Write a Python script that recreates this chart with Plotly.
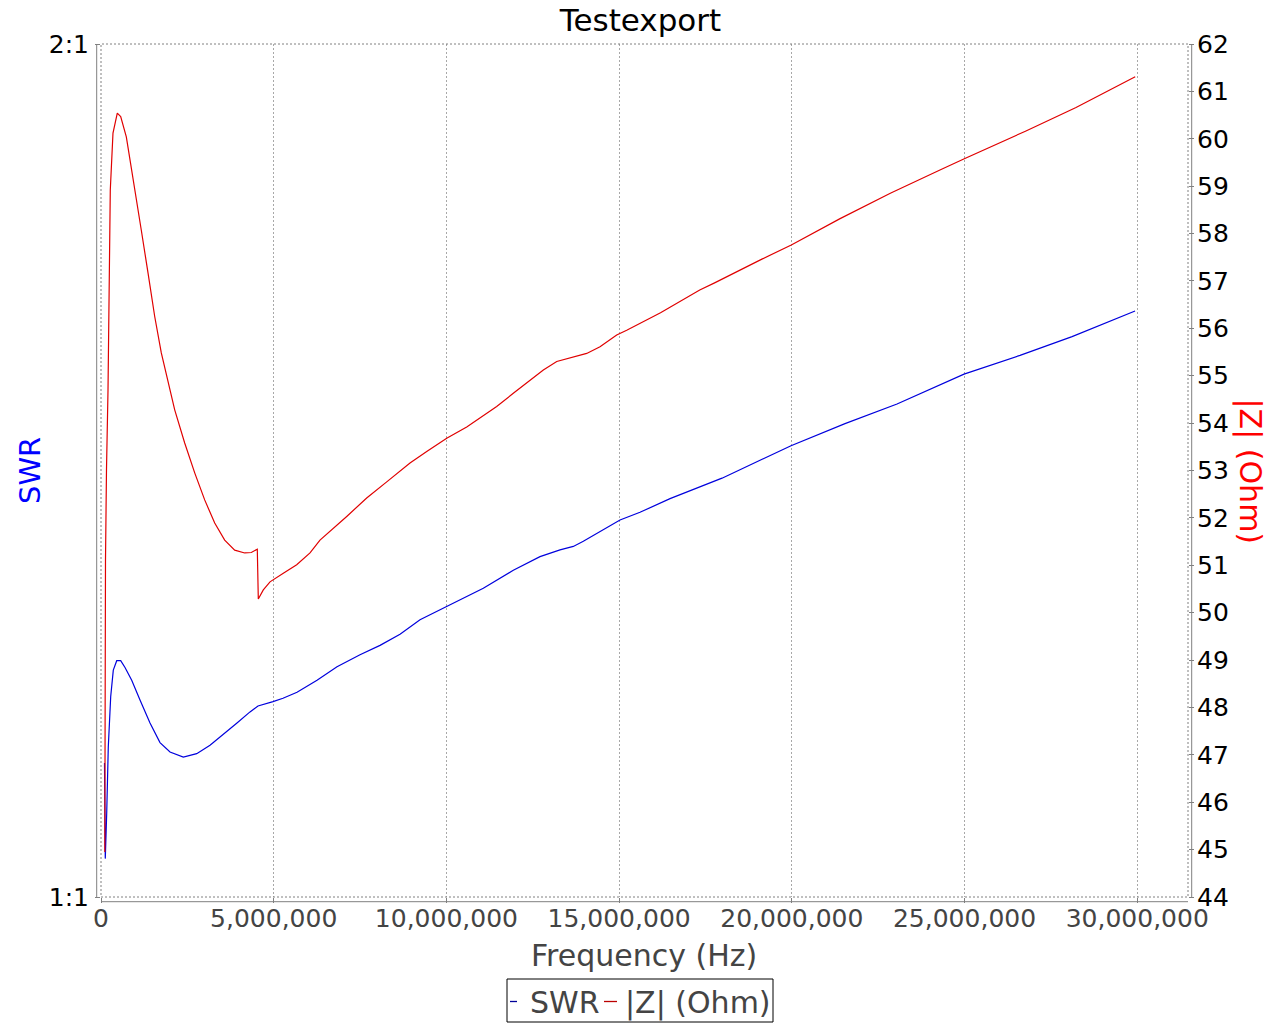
import plotly.graph_objects as go

# ---- data ----
freq_swr_mhz = [0.101, 0.124, 0.165, 0.211, 0.281, 0.356, 0.455, 0.570, 0.695, 0.889,
                1.129, 1.419, 1.708, 1.998, 2.383, 2.771, 3.156, 3.532, 3.937, 4.314,
                4.545, 4.980, 5.269, 5.675, 6.254, 6.833, 7.499, 8.078, 8.657, 9.236,
                10.009, 11.068, 11.937, 12.710, 13.289, 13.674, 13.964, 14.447, 15.026,
                15.605, 16.474, 17.979, 19.977, 21.540, 23.046, 24.986, 25.930, 26.607,
                28.113, 29.937]
swr = [1.157, 1.045, 1.098, 1.176, 1.235, 1.266, 1.277, 1.277, 1.269, 1.254,
       1.231, 1.204, 1.181, 1.170, 1.164, 1.168, 1.178, 1.190, 1.204, 1.217,
       1.224, 1.229, 1.233, 1.240, 1.254, 1.270, 1.284, 1.295, 1.308, 1.325,
       1.341, 1.362, 1.383, 1.399, 1.407, 1.411, 1.417, 1.428, 1.442,
       1.451, 1.467, 1.491, 1.529, 1.555, 1.578, 1.613, 1.626, 1.635,
       1.657, 1.687]

freq_z_mhz = [0.110, 0.130, 0.159, 0.203, 0.269, 0.347, 0.472, 0.570, 0.733, 0.877,
              1.022, 1.167, 1.361, 1.555, 1.746, 1.940, 2.134, 2.423, 2.713, 3.002,
              3.292, 3.581, 3.871, 4.160, 4.351, 4.525, 4.554, 4.699, 4.893, 5.278,
              5.666, 6.051, 6.340, 7.114, 7.692, 8.272, 8.946, 9.430, 10.009, 10.588,
              11.456, 11.937, 12.420, 12.806, 13.194, 13.674, 14.062, 14.447, 14.930,
              15.220, 16.199, 17.334, 17.765, 19.134, 19.985, 21.384, 22.852, 24.320,
              24.994, 26.763, 28.228, 29.942]
z_ohm = [44.95, 51.11, 53.01, 54.70, 58.92, 60.12, 60.54, 60.47, 60.04, 59.41,
         58.71, 58.07, 57.17, 56.25, 55.48, 54.85, 54.28, 53.58, 52.95, 52.38,
         51.89, 51.53, 51.32, 51.26, 51.27, 51.34, 50.29, 50.48, 50.65, 50.83,
         51.01, 51.26, 51.53, 52.03, 52.42, 52.76, 53.16, 53.40, 53.68, 53.92,
         54.35, 54.63, 54.91, 55.12, 55.30, 55.40, 55.47, 55.61, 55.86,
         55.96, 56.33, 56.81, 56.96, 57.46, 57.76, 58.31, 58.85, 59.35,
         59.58, 60.16, 60.66, 61.31]

series_names = ["SWR", "|Z| (Ohm)"]
swr_tickvals = [1, 2]
swr_ticktext = ["1:1", "2:1"]
x_tickvals = [0, 5e6, 10e6, 15e6, 20e6, 25e6, 30e6]

BLUE = "#0000dd"
RED = "#e00000"
FONT = "DejaVu Sans"

# the page places the figure 8 px in from the top-left corner
OFF = 8
L, R, T, B = 101 - OFF, 92, 44 - OFF, 127
PW, PH = 1087, 853
W, H = L + PW + R, T + PH + B


def px(xpix):
    # xpix given in screen pixels of the 1280x1024 window
    return (xpix - OFF - L) / PW


def py(ypix):
    return (T + PH - (ypix - OFF)) / PH


fig = go.Figure()
fig.add_trace(go.Scatter(x=[f * 1e6 for f in freq_swr_mhz], y=swr, mode="lines",
                         name=series_names[0], line=dict(color=BLUE, width=1.2),
                         yaxis="y", showlegend=False))
fig.add_trace(go.Scatter(x=[f * 1e6 for f in freq_z_mhz], y=z_ohm, mode="lines",
                         name=series_names[1], line=dict(color=RED, width=1.2),
                         yaxis="y2", showlegend=False))

tickfont = dict(family=FONT, size=25, color="black")
fig.update_layout(
    width=W, height=H,
    margin=dict(l=L, r=R, t=T, b=B, autoexpand=False),
    paper_bgcolor="white", plot_bgcolor="white",
    title=dict(text="Testexport", x=(640.5 - OFF) / W, xref="container", xanchor="center",
               y=1 - (20 - OFF) / H, yref="container", yanchor="middle",
               font=dict(family=FONT, size=31, color="black")),
    xaxis=dict(range=[0, 31.47e6], tickvals=x_tickvals, tickformat=",d",
               showgrid=True, gridcolor="#a8a8a8", griddash="2px,2px", gridwidth=1,
               zeroline=False, showline=False, ticks="outside", ticklen=5,
               tickcolor="#808080", ticklabelstandoff=-6,
               tickfont=dict(family=FONT, size=25, color="#444444")),
    yaxis=dict(range=[1, 2], tickvals=swr_tickvals, ticktext=swr_ticktext,
               showgrid=False, zeroline=False, showline=False, ticks="outside",
               ticklen=5, tickcolor="#808080", tickfont=tickfont, ticklabelstandoff=1),
    yaxis2=dict(range=[44, 62], dtick=1, tick0=44, overlaying="y", side="right",
                showgrid=False, zeroline=False, showline=False, ticks="outside",
                ticklen=5, tickcolor="#808080", tickfont=tickfont, ticklabelstandoff=-2),
    showlegend=False,
)

shapes = [
    # dashed plot border
    dict(type="rect", xref="paper", yref="paper", x0=0, x1=1, y0=0, y1=1,
         line=dict(color="#808080", width=1, dash="2px,2px")),
    # offset axis lines
    dict(type="line", xref="paper", yref="paper", x0=px(96.7), x1=px(96.7), y0=0, y1=1,
         line=dict(color="#808080", width=1)),
    dict(type="line", xref="paper", yref="paper", x0=px(1191.7), x1=px(1191.7), y0=0, y1=1,
         line=dict(color="#808080", width=1)),
    dict(type="line", xref="paper", yref="paper", x0=0, x1=1, y0=py(901.7), y1=py(901.7),
         line=dict(color="#808080", width=1)),
    # legend box
    dict(type="rect", xref="paper", yref="paper", x0=px(507), x1=px(773),
         y0=py(979), y1=py(1022), line=dict(color="black", width=1), fillcolor="white"),
    dict(type="line", xref="paper", yref="paper", x0=px(510), x1=px(517),
         y0=py(1001.5), y1=py(1001.5), line=dict(color="#000099", width=1.3)),
    dict(type="line", xref="paper", yref="paper", x0=px(604), x1=px(617),
         y0=py(1001.5), y1=py(1001.5), line=dict(color="#bb0000", width=1.3)),
]

annotations = [
    dict(text="Frequency (Hz)", xref="paper", yref="paper", x=px(643.5), y=py(955),
         xanchor="center", yanchor="middle", showarrow=False,
         font=dict(family=FONT, size=30, color="#444444")),
    dict(text="SWR", xref="paper", yref="paper", x=px(30), y=py(470),
         xanchor="center", yanchor="middle", textangle=-90, showarrow=False,
         font=dict(family=FONT, size=29, color="#0000ff")),
    dict(text="|Z| (Ohm)", xref="paper", yref="paper", x=px(1250), y=py(471.5),
         xanchor="center", yanchor="middle", textangle=90, showarrow=False,
         font=dict(family=FONT, size=30, color="#ff0000")),
    dict(text=series_names[0], xref="paper", yref="paper", x=px(528), y=py(1002.5),
         xanchor="left", yanchor="middle", showarrow=False,
         font=dict(family=FONT, size=30, color="#444444")),
    dict(text=series_names[1], xref="paper", yref="paper", x=px(623), y=py(1002.5),
         xanchor="left", yanchor="middle", showarrow=False,
         font=dict(family=FONT, size=30, color="#444444")),
]
fig.update_layout(shapes=shapes, annotations=annotations)

fig.write_html("out.html")
